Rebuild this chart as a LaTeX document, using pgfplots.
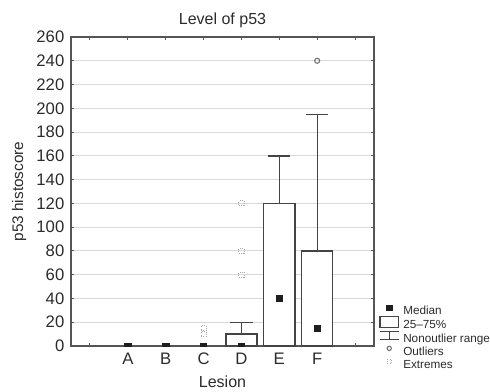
\documentclass[border=0pt]{standalone}
\usepackage{fontspec}
\setmainfont{Liberation Sans}
\usepackage{pgfplots}
\pgfplotsset{compat=1.18}
\definecolor{axc}{HTML}{555555}
\definecolor{boxc}{HTML}{444444}
\definecolor{gridc}{HTML}{D9D9D9}
\definecolor{txt}{HTML}{2B2B2B}
\definecolor{medc}{HTML}{1E1E1E}
\definecolor{outc}{HTML}{707070}
\begin{document}
\begin{tikzpicture}
\begin{axis}[
  name=ax,
  scale only axis, width=227.25pt, height=231.75pt,
  xmin=-0.5, xmax=7.5, ymin=0, ymax=260,
  xtick={0,...,7}, xticklabels={,A,B,C,D,E,F,},
  ytick={0,20,...,260},
  tick align=inside, major tick length=2.5pt,
  tick style={color=axc, line width=0.8pt},
  ymajorgrids, grid style={gridc, line width=0.8pt},
  axis line style={axc, line width=1.2pt},
  /pgf/number format/assume math mode=true,
  ticklabel style={font=\fontsize{12.5}{14}\selectfont, text=txt},
  yticklabel style={xshift=-1.5pt},
  xticklabel style={yshift=-1.5pt},
  title={Level of p53},
  every axis title shift=0pt,
  title style={at={(0.5,1.042)}, anchor=base, font=\fontsize{12}{14}\selectfont, text=txt},
  xlabel={Lesion},
  xlabel style={at={(0.5,-0.1327)}, anchor=base, font=\fontsize{12}{14}\selectfont, text=txt},
  ylabel={p53 histoscore},
  ylabel style={at={(-0.158,0.5)}, anchor=base, font=\fontsize{11.5}{14}\selectfont, text=txt},
  legend style={at={(1.0165,0.142)}, anchor=north west, draw=none, fill=none, inner sep=0pt,
    font=\fontsize{8.8}{10}\selectfont, text=txt, row sep=-1.1pt, column sep=0pt,
    nodes={inner sep=0pt, text height=6.3pt, text depth=1.6pt}},
  legend cell align=left,
]
% boxes (25-75%)
\addplot[ybar, bar width=0.82, bar shift=0pt, fill=white, draw=boxc, line width=1pt, forget plot]
  coordinates {(4,10) (5,120) (6,80)};
% whiskers (nonoutlier range)
\addplot[draw=none, mark=none, forget plot,
  error bars/.cd, y dir=plus, y explicit, error mark=|,
  error bar style={draw=boxc, line width=1pt, solid},
  error mark options={draw=boxc, line width=1pt, mark size=8.3pt}]
  coordinates {(4,10) +- (0,10) (5,120) +- (0,40) (6,80) +- (0,115)};
% medians
\addplot[only marks, mark=square*, mark size=2.4pt, color=medc, clip marker paths=true, forget plot]
  coordinates {(1,0) (2,0) (3,0) (4,0) (5,40) (6,15)};
% outliers
\addplot[only marks, mark=o, mark size=1.9pt, mark options={draw=outc, line width=0.8pt}, forget plot]
  coordinates {(6,240)};
% extremes
\addplot[only marks, mark=square, mark size=1.9pt, mark options={draw=gray!70, densely dotted, line width=0.7pt}, forget plot]
  coordinates {(3,10) (3,15) (4,60) (4,80) (4,120)};

\addlegendimage{legend image code/.code={
  \draw[draw opacity=0, fill=none, line width=0pt] (0pt,-1.5pt) rectangle (18pt,7.1pt);
  \fill[medc] (5.6pt,0.9pt) rectangle (9.4pt,4.7pt);}}
\addlegendentry{Median}
\addlegendimage{legend image code/.code={
  \draw[draw opacity=0, fill=none, line width=0pt] (0pt,-1.5pt) rectangle (18pt,7.1pt);
  \draw[boxc, line width=0.9pt, fill=none] (0.5pt,-1.1pt) rectangle (14.5pt,7.1pt);}}
\addlegendentry{25--75\%}
\addlegendimage{legend image code/.code={
  \draw[draw opacity=0, fill=none, line width=0pt] (0pt,-1.5pt) rectangle (18pt,7.1pt);
  \draw[boxc, line width=0.9pt] (0.5pt,5.9pt) -- (14.5pt,5.9pt) (7.5pt,5.9pt) -- (7.5pt,-0.2pt) (0.5pt,-0.2pt) -- (14.5pt,-0.2pt);}}
\addlegendentry{Nonoutlier range}
\addlegendimage{legend image code/.code={
  \draw[draw opacity=0, fill=none, line width=0pt] (0pt,-1.5pt) rectangle (18pt,7.1pt);
  \draw[outc, line width=0.8pt, fill=none] (7.5pt,2.9pt) circle (1.6pt);}}
\addlegendentry{Outliers}
\addlegendimage{legend image code/.code={
  \draw[draw opacity=0, fill=none, line width=0pt] (0pt,-1.5pt) rectangle (18pt,7.1pt);
  \draw[gray!70, densely dotted, line width=0.7pt, fill=none] (5.9pt,1.3pt) rectangle (9.1pt,4.5pt);}}
\addlegendentry{Extremes}
\end{axis}
\path ([shift={(-53.25pt,-33pt)}]ax.south west) rectangle ([shift={(87pt,27.75pt)}]ax.north east);
\end{tikzpicture}
\end{document}
